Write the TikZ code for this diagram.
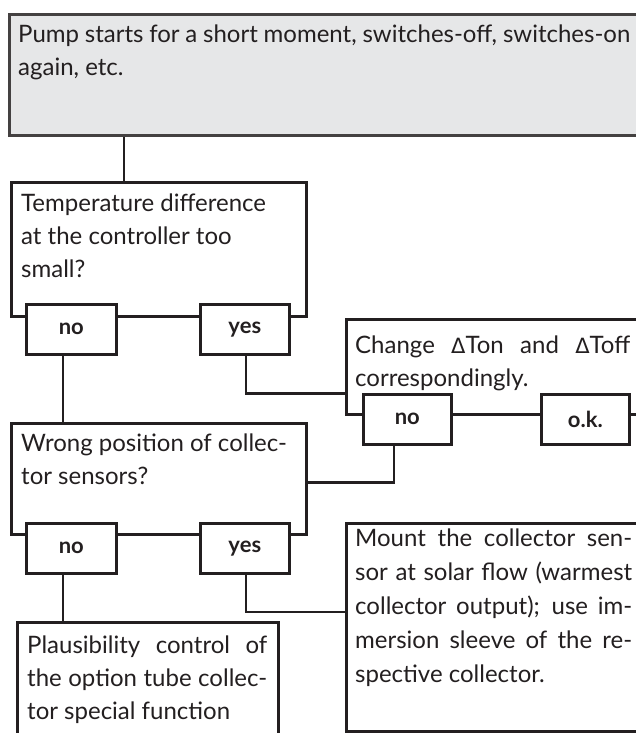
\documentclass[tikz,border=0pt]{standalone}
\usepackage{fontspec}
\setmainfont{Lato}
\newfontfamily\symfnt{DejaVu Sans}
\definecolor{ink}{HTML}{231F20}
\definecolor{panel}{HTML}{E6E7E8}
\newcommand{\dlt}{{\symfnt\fontsize{21}{33}\selectfont Δ}}
\begin{document}
\begin{tikzpicture}[x=1pt,y=-1pt,
  box/.style={rectangle, draw=ink, line width=2.6pt, fill=white, anchor=north west, inner sep=0pt},
  ans/.style={box, font=\bfseries\fontsize{22}{26}\selectfont, text=ink},
  txt/.style={anchor=base west, inner sep=0pt, text=ink, font=\fontsize{24}{33}\selectfont},
  link/.style={draw=ink, line width=2.6pt}]
\useasboundingbox (0,0) rectangle (636,733);
\begin{scope}
\clip (0,0) rectangle (636,733);
% main boxes
\node[box, fill=panel, draw=ink!85, minimum width=650pt, minimum height=121pt] (pump) at (8,13) {};
\node[box, minimum width=295pt, minimum height=134pt] (temp) at (10,181) {};
\node[box, minimum width=310pt, minimum height=95pt] (chg) at (345,318) {};
\node[box, minimum width=295pt, minimum height=111pt] (wrong) at (10,422) {};
\node[box, minimum width=310pt, minimum height=208pt] (mount) at (345,522) {};
\node[box, minimum width=261pt, minimum height=140pt] (plaus) at (16,621) {};
% texts
\node[txt] (pumptext) at (18,43) {\parbox[t]{612pt}{\makebox[612pt][s]{Pump starts for a short moment, switches-off, switches-on}\\again, etc.}};
\node[txt] (temptext) at (21,211) {\parbox[t]{280pt}{Temperature difference\\at the controller too\\small?}};
\node[txt] (chgtext) at (355,353) {\parbox[t]{275pt}{\makebox[275pt][s]{Change \dlt Ton and \dlt Toff}\\correspondingly.}};
\node[txt] (wrongtext) at (21,451) {\parbox[t]{280pt}{Wrong position of collec-\\tor sensors?}};
\node[txt, font=\fontsize{24}{34}\selectfont] (mounttext) at (355,546) {\parbox[t]{277pt}{\makebox[277pt][s]{Mount the collector sen-}\\\makebox[277pt][s]{sor at solar flow (warmest}\\\makebox[277pt][s]{collector output); use im-}\\\makebox[277pt][s]{mersion sleeve of the re-}\\spective collector.}};
\node[txt] (plaustext) at (27,653) {\parbox[t]{240pt}{\makebox[240pt][s]{Plausibility control of}\\\makebox[240pt][s]{the option tube collec-}\\tor special function}};
% connectors
\draw[link] ([xshift=116pt]pump.south west) -- ([xshift=114pt]temp.north west);
\draw[link] (25+38,353) coordinate (tnofoot) -- ([xshift=53pt]wrong.north west);
\draw[link] (199+47,353) coordinate (tyesfoot) |- ([yshift=22pt]chg.south west);
\draw[link] (362+32,443) coordinate (cnofoot) |- ([yshift=53pt]wrong.south east);
\draw[link] (25+38,572) coordinate (wnofoot) -- ([xshift=47pt]plaus.north west);
\draw[link] (199+47,572) coordinate (wyesfoot) |- ([yshift=-90pt]mount.north west);
% answer boxes
\node[ans, minimum width=90pt, minimum height=50pt] (tno) at (25,303) {no};
\node[ans, minimum width=89pt, minimum height=50pt] (tyes) at (199,303) {yes};
\node[ans, minimum width=88pt, minimum height=50pt] (cno) at (362,393) {no};
\node[ans, minimum width=88pt, minimum height=50pt] (cok) at (540,393) {o.k.};
\node[ans, minimum width=90pt, minimum height=50pt] (wno) at (25,522) {no};
\node[ans, minimum width=89pt, minimum height=50pt] (wyes) at (199,522) {yes};
\end{scope}
\end{tikzpicture}
\end{document}
